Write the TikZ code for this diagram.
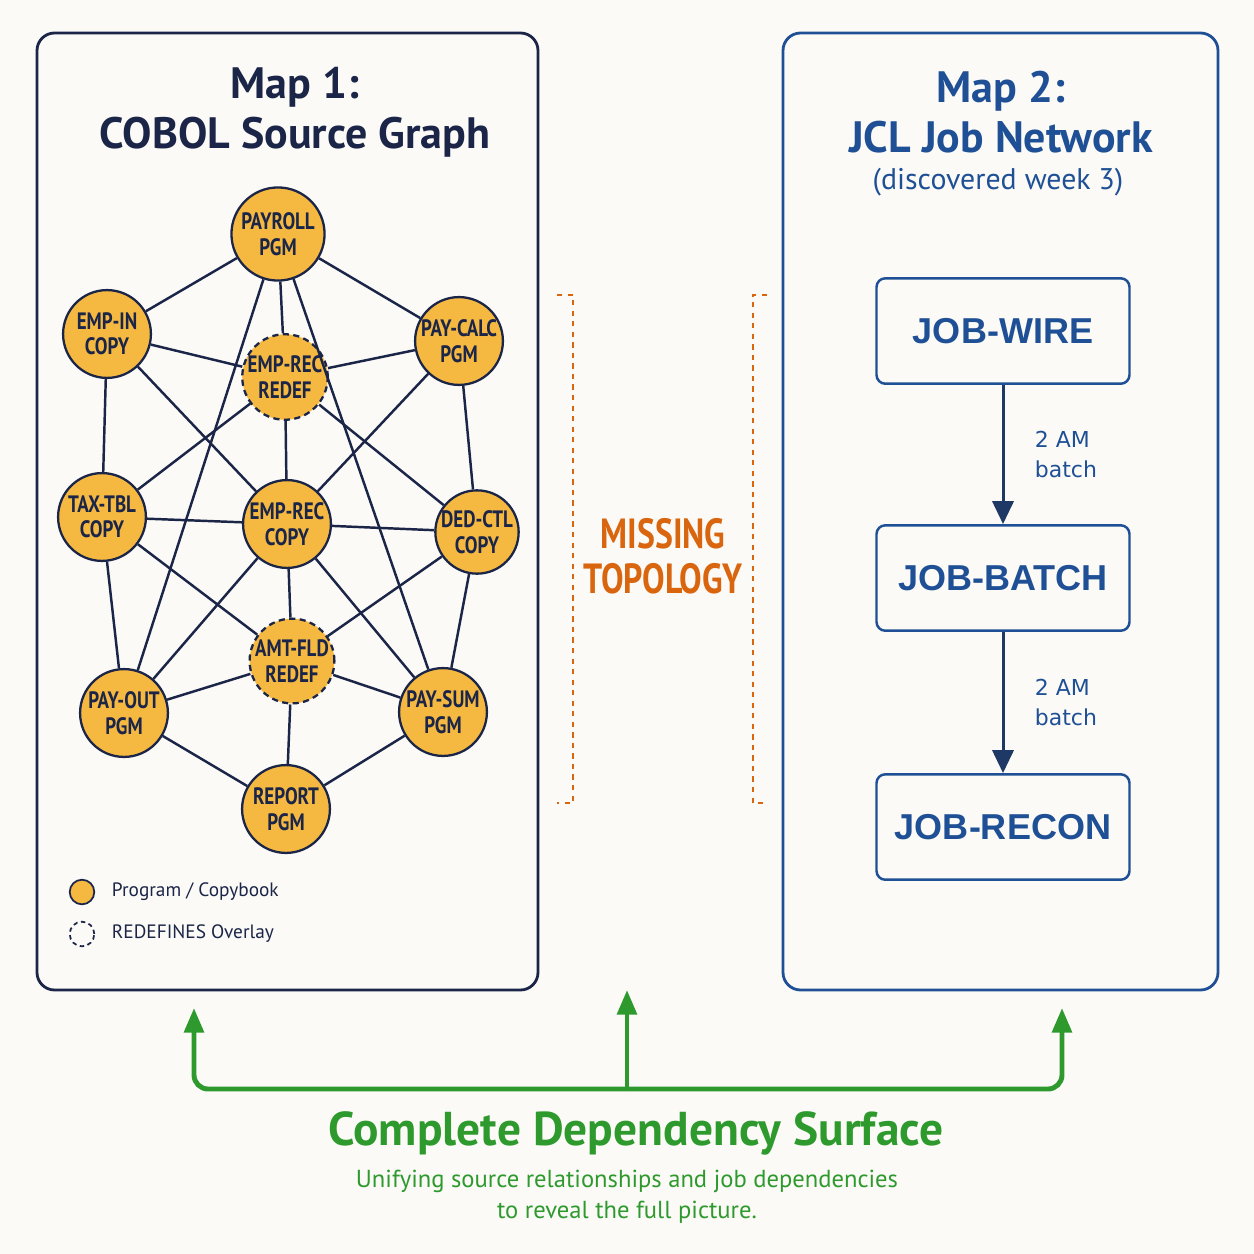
\documentclass[tikz,border=0pt]{standalone}
\usepackage{fontspec}
\setmainfont{PT Sans}
\newfontfamily\jobfont{Liberation Sans}
\newfontfamily\notafont{DejaVu Sans}
\usepackage{graphicx}
\usepackage{xcolor}
\definecolor{navyMap}{HTML}{1B2548}
\definecolor{azulMap}{HTML}{1F5096}
\definecolor{flechaJob}{HTML}{1E3966}
\definecolor{oroNodo}{HTML}{F5B942}
\definecolor{naranjaMap}{HTML}{D9660F}
\definecolor{verdeMap}{HTML}{2E9A2E}
\definecolor{fondoMap}{HTML}{FBFAF6}
\usetikzlibrary{arrows.meta,positioning}
\newcommand{\estrecho}[1]{\scalebox{0.8}[1]{#1}}
\newcommand{\etiq}[2]{\estrecho{#1}\\\estrecho{#2}}

\begin{document}
\begin{tikzpicture}[x=0.02cm,y=-0.02cm,
  nodo/.style={circle,draw=navyMap,line width=1.3pt,fill=oroNodo,minimum size=50pt,
    inner sep=0pt,align=center,text=navyMap,font=\bfseries\fontsize{13.5}{14.5}\selectfont},
  redef/.style={nodo,minimum size=47pt,dash pattern=on 3.5pt off 2.5pt},
  arista/.style={navyMap,line width=1.4pt},
  titulo/.style={align=center,font=\bfseries\fontsize{25}{28.5}\selectfont},
  jobbox/.style={draw=azulMap,line width=1.4pt,rounded corners=5pt,minimum width=144pt,
    minimum height=60pt,text=azulMap,font=\jobfont\bfseries\fontsize{20.5}{24}\selectfont},
  jobflecha/.style={flechaJob,line width=1.7pt,-{Triangle[length=13pt,width=12pt]}},
  corchete/.style={naranjaMap,line width=0.9pt,dash pattern=on 3pt off 3pt},
  verde/.style={verdeMap,line width=2.8pt,rounded corners=8pt},
  leyenda/.style={text=navyMap,font=\fontsize{11}{13}\selectfont}]
  \fill[fondoMap] (0,0) rectangle (1254,1254);
  \useasboundingbox (0,0) rectangle (1254,1254);

  % paneles
  \draw[navyMap,line width=1.6pt,rounded corners=10pt] (37,33) rectangle (538,990);
  \draw[azulMap,line width=1.6pt,rounded corners=10pt] (783,33) rectangle (1218,990);
  \node[titulo,text=navyMap] (t1) at (295,112) {Map 1:\\COBOL Source Graph};
  \node[titulo,text=azulMap] (t2) at (1001,112) {Map 2:\\JCL Job Network};
  \node[text=azulMap,font=\fontsize{17}{20}\selectfont] (t2b) at (998,182) {(discovered week 3)};

  % grafo COBOL
  \node[nodo,minimum size=53pt] (payroll) at (278,234) {\etiq{PAYROLL}{PGM}};
  \node[nodo] (empin) at (107,334) {\etiq{EMP-IN}{COPY}};
  \node[nodo] (paycalc) at (459,341) {\etiq{PAY-CALC}{PGM}};
  \node[redef] (emprd) at (285,377) {\etiq{EMP-REC}{REDEF}};
  \node[nodo] (taxtbl) at (102,517) {\etiq{TAX-TBL}{COPY}};
  \node[nodo] (emprec) at (287,524) {\etiq{EMP-REC}{COPY}};
  \node[nodo,minimum size=47pt] (dedctl) at (477,532) {\etiq{DED-CTL}{COPY}};
  \node[redef] (amtfld) at (292,661) {\etiq{AMT-FLD}{REDEF}};
  \node[nodo] (payout) at (124,713) {\etiq{PAY-OUT}{PGM}};
  \node[nodo] (paysum) at (443,712) {\etiq{PAY-SUM}{PGM}};
  \node[nodo] (report) at (286,809) {\etiq{REPORT}{PGM}};
  \foreach \a/\b in {payroll/empin,payroll/paycalc,payroll/emprd,payroll/payout,payroll/paysum,
      empin/emprd,empin/taxtbl,empin/emprec,paycalc/emprd,paycalc/dedctl,paycalc/emprec,
      emprd/taxtbl,emprd/emprec,emprd/dedctl,taxtbl/emprec,taxtbl/payout,taxtbl/amtfld,
      emprec/dedctl,emprec/amtfld,emprec/payout,emprec/paysum,dedctl/amtfld,dedctl/paysum,
      amtfld/payout,amtfld/paysum,amtfld/report,payout/report,paysum/report}
    \draw[arista] (\a) -- (\b);

  % leyenda
  \node[nodo,minimum size=14pt,line width=1pt] (legA) at (82,892) {};
  \node[leyenda,right=6pt of legA] {Program / Copybook};
  \node[circle,draw=navyMap,line width=1pt,minimum size=14pt,inner sep=0pt,
    dash pattern=on 2.5pt off 2pt] (legB) at (82,934) {};
  \node[leyenda,right=6pt of legB] {REDEFINES Overlay};

  % hueco central
  \draw[corchete] (557,295) -- (573,295) -- (573,803) -- (557,803);
  \draw[corchete] (767,295) -- (753,295) -- (753,803) -- (767,803);
  \node[align=center,text=naranjaMap,font=\bfseries\fontsize{24}{25.5}\selectfont] (hueco) at (663,556)
    {\estrecho{MISSING}\\\estrecho{TOPOLOGY}};

  % red JCL
  \node[jobbox] (wire) at (1003,331) {JOB-WIRE};
  \node[jobbox] (batch) at (1003,578) {JOB-BATCH};
  \node[jobbox] (recon) at (1003,827) {JOB-RECON};
  \foreach \a/\b in {wire/batch,batch/recon}
    \draw[jobflecha] (\a) -- node[right=14pt,align=left,text=azulMap,
      font=\notafont\fontsize{12.5}{17}\selectfont] {2 AM\\batch} (\b);

  % superficie completa
  \coordinate (base) at (627,1089);
  \coordinate (puntaL) at (194,1008);
  \coordinate (puntaM) at (627,990);
  \coordinate (puntaR) at (1062,1008);
  \draw[verde,-{Triangle[length=14pt,width=11pt]}] (base) -| (puntaL);
  \draw[verde,-{Triangle[length=14pt,width=11pt]}] (base) -| (puntaR);
  \draw[verde,-{Triangle[length=14pt,width=11pt]}] (base) -- (puntaM);
  \node[text=verdeMap,font=\bfseries\fontsize{27}{30}\selectfont] (sup) at (636,1133)
    {Complete Dependency Surface};
  \node[align=center,text=verdeMap,font=\fontsize{14}{17.5}\selectfont] (nota) at (627,1197)
    {Unifying source relationships and job dependencies\\to reveal the full picture.};
\end{tikzpicture}
\end{document}
